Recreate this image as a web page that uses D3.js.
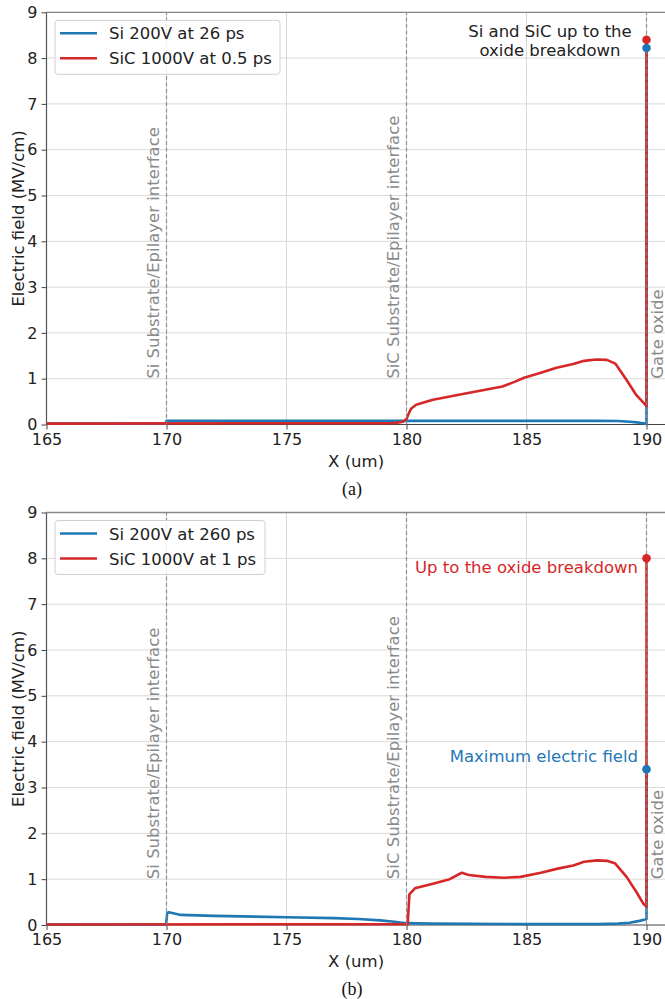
<!DOCTYPE html>
<html><head><meta charset="utf-8">
<script src="https://cdn.jsdelivr.net/npm/d3@7"></script>
<style>body{margin:0;background:#fff}svg{display:block}</style>
</head><body>
<svg id="c" width="665" height="999"></svg>
<script>
const xTicks = [165,170,175,180,185,190];
const yTicks = [0,1,2,3,4,5,6,7,8,9];
const interfaces = [170,180,190];
const interfaceLabels = ["Si Substrate/Epilayer interface","SiC Substrate/Epilayer interface","Gate oxide"];

// Panel (a)
const siA_x = [165,169.97,170.0,175,180,186,188,188.8,189.3,189.7,189.95,190.0,190.0];
const siA_y = [0.02,0.02,0.08,0.08,0.08,0.08,0.08,0.075,0.06,0.04,0.02,0.01,8.22];
const sicA_x = [165,179.5,179.85,180.0,180.1,180.2,180.4,181.1,182.4,184.0,184.5,184.9,185.6,186.25,186.95,187.4,187.9,188.35,188.7,189.17,189.58,189.9,190.0,190.0];
const sicA_y = [0.02,0.03,0.06,0.12,0.25,0.35,0.43,0.54,0.67,0.83,0.93,1.02,1.13,1.24,1.32,1.39,1.42,1.41,1.33,0.97,0.64,0.46,0.4,8.4];
const labelsA = ["Si 200V at 26 ps","SiC 1000V at 0.5 ps"];

// Panel (b)
const siB_x = [165,169.98,170.03,170.1,170.6,172,175,177,178,178.9,179.5,180.0,181,185,188,188.8,189.3,189.7,189.95,190.0,190.0];
const siB_y = [0.01,0.01,0.26,0.28,0.22,0.2,0.17,0.15,0.13,0.1,0.07,0.04,0.03,0.02,0.02,0.03,0.05,0.09,0.12,0.13,3.4];
const sicB_x = [165,180.05,180.12,180.35,181.1,181.8,182.3,182.6,183.3,184.05,184.75,185.6,186.3,186.95,187.4,187.95,188.35,188.7,189.17,189.58,189.86,190.0,190.0];
const sicB_y = [0.01,0.02,0.67,0.8,0.9,1.0,1.14,1.09,1.05,1.03,1.05,1.14,1.23,1.3,1.38,1.41,1.4,1.34,1.05,0.72,0.47,0.4,8.0];
const labelsB = ["Si 200V at 260 ps","SiC 1000V at 1 ps"];

const blue = "#1f77b4", red = "#d62728";
const FONT = "DejaVu Sans";
const svg = d3.select("#c");

function panel(top, bottom, siX, siY, sicX, sicY, labels, legendW, caption, annot, siDot, sicDot) {
  const x = d3.scaleLinear().domain([165, 190.8]).range([46.5, 665.7]);
  const y = d3.scaleLinear().domain([0, 9]).range([bottom, top]);
  const g = svg.append("g");
  // grid
  g.selectAll(".gy").data(yTicks.slice(1)).join("line")
    .attr("x1", x(165)).attr("x2", 665).attr("y1", d => y(d)).attr("y2", d => y(d))
    .attr("stroke", "#d9d9d9").attr("stroke-width", 1);
  g.selectAll(".gx").data(xTicks.slice(1)).join("line")
    .attr("x1", d => x(d)).attr("x2", d => x(d)).attr("y1", y(0)).attr("y2", y(9))
    .attr("stroke", "#d9d9d9").attr("stroke-width", 1);
  // axes
  const xa = g.append("g").attr("transform", `translate(0,${y(0)})`)
    .call(d3.axisBottom(x).tickValues(xTicks).tickSize(5).tickPadding(4));
  const ya = g.append("g").attr("transform", `translate(${x(165)},0)`)
    .call(d3.axisLeft(y).tickValues(yTicks).tickSize(5).tickPadding(4));
  [xa, ya].forEach(a => {
    a.select(".domain").remove();
    a.selectAll("line").attr("stroke", "#444");
    a.selectAll("text").attr("font-family", FONT).attr("font-size", 16).attr("fill", "#222");
  });
  // spines
  g.append("line").attr("x1", x(165)).attr("x2", 665).attr("y1", y(9)).attr("y2", y(9)).attr("stroke", "#888").attr("stroke-width", 1.3);
  g.append("line").attr("x1", x(165)).attr("x2", x(165)).attr("y1", y(0)).attr("y2", y(9)).attr("stroke", "#555").attr("stroke-width", 1.2);
  g.append("line").attr("x1", x(165)).attr("x2", 665).attr("y1", y(0)).attr("y2", y(0)).attr("stroke", "#444").attr("stroke-width", 1.2);

  // lines
  const line = d3.line().x(d => x(d[0])).y(d => y(d[1]));
  g.append("path").datum(d3.zip(siX, siY)).attr("d", line).attr("fill", "none")
    .attr("stroke", blue).attr("stroke-width", 2.6).attr("stroke-linejoin", "round");
  g.append("path").datum(d3.zip(sicX, sicY)).attr("d", line).attr("fill", "none")
    .attr("stroke", red).attr("stroke-width", 2.6).attr("stroke-linejoin", "round");

  // interface dashed lines and labels
  g.selectAll(".iv").data(interfaces).join("line")
    .attr("x1", d => x(d)).attr("x2", d => x(d)).attr("y1", y(0)).attr("y2", y(9))
    .attr("stroke", "#888").attr("stroke-width", 1.2).attr("stroke-dasharray", "4,2.5").attr("opacity", 0.9);
  const offs = [-8, -8, 16.5];
  interfaces.forEach((v, i) => {
    const px = x(v) + offs[i], py = y(1);
    g.append("text").attr("transform", `translate(${px},${py}) rotate(-90)`)
      .attr("font-family", FONT).attr("font-size", 16.5).attr("fill", "#8a8a8a")
      .text(interfaceLabels[i]);
  });

  // dots
  siDot && g.append("circle").attr("cx", x(190)).attr("cy", y(siDot)).attr("r", 4.3).attr("fill", blue);
  sicDot && g.append("circle").attr("cx", x(190)).attr("cy", y(sicDot)).attr("r", 4.3).attr("fill", red);

  // annotations
  annot.forEach(a => {
    const t = g.append("text").attr("font-family", FONT).attr("font-size", 16.5)
      .attr("fill", a.color).attr("text-anchor", a.anchor);
    a.lines.forEach((s, k) => t.append("tspan").attr("x", a.x).attr("y", a.y + k * 18.5).text(s));
  });

  // legend
  const lg = g.append("g");
  lg.append("rect").attr("x", 55).attr("y", top + 8).attr("width", legendW).attr("height", 54)
    .attr("rx", 3).attr("fill", "#fff").attr("fill-opacity", 0.85).attr("stroke", "#d0d0d0");
  [blue, red].forEach((c, i) => {
    const yy = top + 21 + i * 25;
    lg.append("line").attr("x1", 60).attr("x2", 97).attr("y1", yy).attr("y2", yy).attr("stroke", c).attr("stroke-width", 2.6);
    lg.append("text").attr("x", 109).attr("y", yy + 6).attr("font-family", FONT).attr("font-size", 16.5)
      .attr("fill", "#222").text(labels[i]);
  });

  // axis labels
  g.append("text").attr("x", (x(165) + 665.7) / 2).attr("y", y(0) + 42).attr("text-anchor", "middle")
    .attr("font-family", FONT).attr("font-size", 16.5).attr("fill", "#222").text("X (um)");
  g.append("text").attr("transform", `translate(24,${(y(0) + y(9)) / 2}) rotate(-90)`).attr("text-anchor", "middle")
    .attr("font-family", FONT).attr("font-size", 16.5).attr("fill", "#222").text("Electric field (MV/cm)");
  g.append("text").attr("x", 352).attr("y", y(0) + 70).attr("text-anchor", "middle")
    .attr("font-family", "Liberation Serif").attr("font-size", 18).attr("fill", "#111").text(caption);
}

panel(12.3, 424.5, siA_x, siA_y, sicA_x, sicA_y, labelsA, 225, "(a)",
  [{lines: ["Si and SiC up to the", "oxide breakdown"], x: 550, y: 37, color: "#222", anchor: "middle"}], 8.22, 8.4);
panel(512.5, 925, siB_x, siB_y, sicB_x, sicB_y, labelsB, 210, "(b)",
  [{lines: ["Up to the oxide breakdown"], x: 638, y: 572.5, color: red, anchor: "end"},
   {lines: ["Maximum electric field"], x: 638, y: 761.5, color: blue, anchor: "end"}], 3.4, 8.0);
</script>
</body></html>
